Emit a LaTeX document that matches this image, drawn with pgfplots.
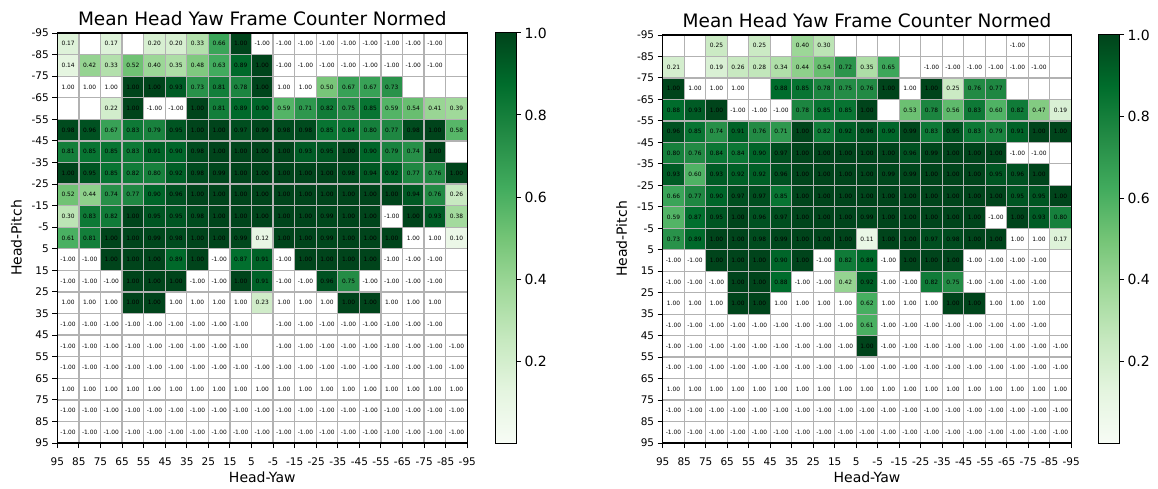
\documentclass[border=0pt]{standalone}
\usepackage{pgfplots}
\usepackage{pgfplotstable}
\usepackage{fontspec}
\setmainfont{DejaVu Sans}
\pgfplotsset{compat=1.18}
% v: value of a cell; -2 = empty white cell; -3 = white cell whose printed text reads 1.00
\pgfplotstableread[row sep=\\]{
v\\
0.17\\ -2\\ 0.17\\ -2\\ 0.20\\ 0.20\\ 0.33\\ 0.66\\ 1.00\\ -1\\ -1\\ -1\\ -1\\ -1\\ -1\\ -1\\ -1\\ -1\\ -2\\
0.14\\ 0.42\\ 0.33\\ 0.52\\ 0.40\\ 0.35\\ 0.48\\ 0.63\\ 0.89\\ 1.00\\ -1\\ -1\\ -1\\ -1\\ -1\\ -1\\ -1\\ -1\\ -2\\
-3\\ -3\\ -3\\ 1.00\\ 1.00\\ 0.93\\ 0.73\\ 0.81\\ 0.78\\ 1.00\\ -3\\ -3\\ 0.50\\ 0.67\\ 0.67\\ 0.73\\ -2\\ -2\\ -2\\
-2\\ -2\\ 0.22\\ 1.00\\ -1\\ -1\\ 1.00\\ 0.81\\ 0.89\\ 0.90\\ 0.59\\ 0.71\\ 0.82\\ 0.75\\ 0.85\\ 0.59\\ 0.54\\ 0.41\\ 0.39\\
0.98\\ 0.96\\ 0.67\\ 0.83\\ 0.79\\ 0.95\\ 1.00\\ 1.00\\ 0.97\\ 0.99\\ 0.98\\ 0.98\\ 0.85\\ 0.84\\ 0.80\\ 0.77\\ 0.98\\ 1.00\\ 0.58\\
0.81\\ 0.85\\ 0.85\\ 0.83\\ 0.91\\ 0.90\\ 0.98\\ 1.00\\ 1.00\\ 1.00\\ 1.00\\ 0.93\\ 0.95\\ 1.00\\ 0.90\\ 0.79\\ 0.74\\ 1.00\\ -2\\
1.00\\ 0.95\\ 0.85\\ 0.82\\ 0.80\\ 0.92\\ 0.98\\ 0.99\\ 1.00\\ 1.00\\ 1.00\\ 1.00\\ 1.00\\ 0.98\\ 0.94\\ 0.92\\ 0.77\\ 0.76\\ 1.00\\
0.52\\ 0.44\\ 0.74\\ 0.77\\ 0.90\\ 0.96\\ 1.00\\ 1.00\\ 1.00\\ 1.00\\ 1.00\\ 1.00\\ 1.00\\ 1.00\\ 1.00\\ 1.00\\ 0.94\\ 0.76\\ 0.26\\
0.30\\ 0.83\\ 0.82\\ 1.00\\ 0.95\\ 0.95\\ 0.98\\ 1.00\\ 1.00\\ 1.00\\ 1.00\\ 1.00\\ 0.99\\ 1.00\\ 1.00\\ -1\\ 1.00\\ 0.93\\ 0.38\\
0.61\\ 0.81\\ 1.00\\ 1.00\\ 0.99\\ 0.98\\ 1.00\\ 1.00\\ 0.99\\ 0.12\\ 1.00\\ 1.00\\ 0.99\\ 1.00\\ 1.00\\ 1.00\\ -3\\ -3\\ 0.10\\
-1\\ -1\\ 1.00\\ 1.00\\ 1.00\\ 0.89\\ 1.00\\ -1\\ 0.87\\ 0.91\\ -1\\ 1.00\\ 1.00\\ 1.00\\ 1.00\\ -1\\ -1\\ -1\\ -2\\
-1\\ -1\\ -1\\ 1.00\\ 1.00\\ 1.00\\ -1\\ -1\\ 1.00\\ 0.91\\ -1\\ -1\\ 0.96\\ 0.75\\ -1\\ -1\\ -1\\ -1\\ -2\\
-3\\ -3\\ -3\\ 1.00\\ 1.00\\ -3\\ -3\\ -3\\ -3\\ 0.23\\ -3\\ -3\\ -3\\ 1.00\\ 1.00\\ -3\\ -3\\ -3\\ -2\\
-1\\ -1\\ -1\\ -1\\ -1\\ -1\\ -1\\ -1\\ -1\\ -2\\ -1\\ -1\\ -1\\ -1\\ -1\\ -1\\ -1\\ -1\\ -2\\
-1\\ -1\\ -1\\ -1\\ -1\\ -1\\ -1\\ -1\\ -1\\ -2\\ -1\\ -1\\ -1\\ -1\\ -1\\ -1\\ -1\\ -1\\ -1\\
-1\\ -1\\ -1\\ -1\\ -1\\ -1\\ -1\\ -1\\ -1\\ -1\\ -1\\ -1\\ -1\\ -1\\ -1\\ -1\\ -1\\ -1\\ -1\\
-3\\ -3\\ -3\\ -3\\ -3\\ -3\\ -3\\ -3\\ -3\\ -3\\ -3\\ -3\\ -3\\ -3\\ -3\\ -3\\ -3\\ -3\\ -3\\
-1\\ -1\\ -1\\ -1\\ -1\\ -1\\ -1\\ -1\\ -1\\ -1\\ -1\\ -1\\ -1\\ -1\\ -1\\ -1\\ -1\\ -1\\ -1\\
-1\\ -1\\ -1\\ -1\\ -1\\ -1\\ -1\\ -1\\ -1\\ -1\\ -1\\ -1\\ -1\\ -1\\ -1\\ -1\\ -1\\ -1\\ -1\\
}\tableL
\pgfplotstableread[row sep=\\]{
v\\
-2\\ -2\\ 0.25\\ -2\\ 0.25\\ -2\\ 0.40\\ 0.30\\ -2\\ -2\\ -2\\ -2\\ -2\\ -2\\ -2\\ -2\\ -1\\ -2\\ -2\\
0.21\\ -2\\ 0.19\\ 0.26\\ 0.28\\ 0.34\\ 0.44\\ 0.54\\ 0.72\\ 0.35\\ 0.65\\ -2\\ -1\\ -1\\ -1\\ -1\\ -1\\ -1\\ -2\\
1.00\\ -3\\ -3\\ -3\\ -2\\ 0.88\\ 0.85\\ 0.78\\ 0.75\\ 0.76\\ 1.00\\ -3\\ 1.00\\ 0.25\\ 0.76\\ 0.77\\ -2\\ -2\\ -2\\
0.88\\ 0.93\\ 1.00\\ -1\\ -1\\ -1\\ 0.78\\ 0.85\\ 0.85\\ 1.00\\ -2\\ 0.53\\ 0.78\\ 0.56\\ 0.83\\ 0.60\\ 0.82\\ 0.47\\ 0.19\\
0.96\\ 0.85\\ 0.74\\ 0.91\\ 0.76\\ 0.71\\ 1.00\\ 0.82\\ 0.92\\ 0.96\\ 0.90\\ 0.99\\ 0.83\\ 0.95\\ 0.83\\ 0.79\\ 0.91\\ 1.00\\ 1.00\\
0.80\\ 0.76\\ 0.84\\ 0.84\\ 0.90\\ 0.97\\ 1.00\\ 1.00\\ 1.00\\ 1.00\\ 1.00\\ 0.96\\ 0.99\\ 1.00\\ 1.00\\ 1.00\\ -1\\ -1\\ -2\\
0.93\\ 0.60\\ 0.93\\ 0.92\\ 0.92\\ 0.96\\ 1.00\\ 1.00\\ 1.00\\ 1.00\\ 0.99\\ 0.99\\ 1.00\\ 1.00\\ 1.00\\ 0.95\\ 0.96\\ 1.00\\ -2\\
0.66\\ 0.77\\ 0.90\\ 0.97\\ 0.97\\ 0.85\\ 1.00\\ 1.00\\ 1.00\\ 1.00\\ 1.00\\ 1.00\\ 1.00\\ 1.00\\ 1.00\\ 1.00\\ 0.95\\ 0.95\\ 1.00\\
0.59\\ 0.87\\ 0.95\\ 1.00\\ 0.96\\ 0.97\\ 1.00\\ 1.00\\ 1.00\\ 0.99\\ 1.00\\ 1.00\\ 1.00\\ 1.00\\ 1.00\\ -1\\ 1.00\\ 0.93\\ 0.80\\
0.73\\ 0.89\\ 1.00\\ 1.00\\ 0.98\\ 0.99\\ 1.00\\ 1.00\\ 1.00\\ 0.11\\ 1.00\\ 1.00\\ 0.97\\ 0.98\\ 1.00\\ 1.00\\ -3\\ -3\\ 0.17\\
-1\\ -1\\ 1.00\\ 1.00\\ 1.00\\ 0.90\\ 1.00\\ -1\\ 0.82\\ 0.89\\ -1\\ 1.00\\ 1.00\\ 1.00\\ -1\\ -1\\ -1\\ -1\\ -2\\
-1\\ -1\\ -1\\ 1.00\\ 1.00\\ 0.88\\ -1\\ -1\\ 0.42\\ 0.92\\ -1\\ -1\\ 0.82\\ 0.75\\ -1\\ -1\\ -1\\ -1\\ -2\\
-3\\ -3\\ -3\\ 1.00\\ 1.00\\ -3\\ -3\\ -3\\ -3\\ 0.62\\ -3\\ -3\\ -3\\ 1.00\\ 1.00\\ -3\\ -3\\ -3\\ -2\\
-1\\ -1\\ -1\\ -1\\ -1\\ -1\\ -1\\ -1\\ -1\\ 0.61\\ -1\\ -1\\ -1\\ -1\\ -1\\ -1\\ -1\\ -1\\ -2\\
-1\\ -1\\ -1\\ -1\\ -1\\ -1\\ -1\\ -1\\ -1\\ 1.00\\ -1\\ -1\\ -1\\ -1\\ -1\\ -1\\ -1\\ -1\\ -1\\
-1\\ -1\\ -1\\ -1\\ -1\\ -1\\ -1\\ -1\\ -1\\ -1\\ -1\\ -1\\ -1\\ -1\\ -1\\ -1\\ -1\\ -1\\ -1\\
-3\\ -3\\ -3\\ -3\\ -3\\ -3\\ -3\\ -3\\ -3\\ -3\\ -3\\ -3\\ -3\\ -3\\ -3\\ -3\\ -3\\ -3\\ -3\\
-1\\ -1\\ -1\\ -1\\ -1\\ -1\\ -1\\ -1\\ -1\\ -1\\ -1\\ -1\\ -1\\ -1\\ -1\\ -1\\ -1\\ -1\\ -1\\
-1\\ -1\\ -1\\ -1\\ -1\\ -1\\ -1\\ -1\\ -1\\ -1\\ -1\\ -1\\ -1\\ -1\\ -1\\ -1\\ -1\\ -1\\ -1\\
}\tableR
\pgfplotsset{
  colormap={heatw}{rgb255(0pt)=(255,255,255); rgb255(1207pt)=(255,255,255); rgb255(1208pt)=(247,252,245);
    rgb255(1257pt)=(229,245,224); rgb255(1306pt)=(199,233,192); rgb255(1355pt)=(161,217,155);
    rgb255(1404pt)=(116,196,118); rgb255(1453pt)=(65,171,93); rgb255(1502pt)=(35,139,69);
    rgb255(1551pt)=(0,109,44); rgb255(1600pt)=(0,68,27)},
  colormap={Greens}{rgb255(0pt)=(247,252,245); rgb255(1pt)=(229,245,224); rgb255(2pt)=(199,233,192);
    rgb255(3pt)=(161,217,155); rgb255(4pt)=(116,196,118); rgb255(5pt)=(65,171,93);
    rgb255(6pt)=(35,139,69); rgb255(7pt)=(0,109,44); rgb255(8pt)=(0,68,27)},
  heat/.style={
    scale only axis, anchor=south west,
    xmin=0, xmax=19, ymin=0, ymax=19, y dir=reverse,
    xtick={0,...,19}, ytick={0,...,19},
    xticklabels={95,85,75,65,55,45,35,25,15,5,-5,-15,-25,-35,-45,-55,-65,-75,-85,-95},
    yticklabels={-95,-85,-75,-65,-55,-45,-35,-25,-15,-5,5,15,25,35,45,55,65,75,85,95},
    tick pos=left, tick align=outside, major tick length=5pt,
    tick style={black, line width=1pt},
    axis line style={black, line width=1.1pt},
    axis on top,
    grid=major, grid style={draw=black!30, line width=1.3pt},
    point meta min=-3, point meta max=1,
    colormap name=heatw,
    ticklabel style={font=\fontsize{10.5}{12}\selectfont},
    x tick label style={yshift=-6pt},
    /pgf/number format/assume math mode=true,
    xlabel={Head-Yaw}, ylabel={Head-Pitch},
    label style={font=\fontsize{14}{16}\selectfont},
    xlabel style={yshift=0pt},
    ylabel style={yshift=3pt},
    title style={font=\fontsize{18.5}{20}\selectfont, yshift=-2pt},
    title={Mean Head Yaw Frame Counter Normed},
  },
  celltext/.style={
    draw=none, mark=none, forget plot,
    nodes near coords={\pgfmathprintnumber[fixed,fixed zerofill,precision=2,assume math mode=true]{\pgfplotspointmeta}},
    every node near coord/.append style={font=\fontsize{5.9}{7}\selectfont, text=black, inner sep=0pt, anchor=center},
    point meta={\thisrow{v}<-2.5 ? 1 : \thisrow{v}},
  },
  cbar/.style={
    scale only axis, anchor=south west,
    xmin=0, xmax=1, ymin=0, ymax=1,
    xtick=\empty, ytick={0.2,0.4,0.6,0.8,1.0},
    yticklabels={0.2,0.4,0.6,0.8,1.0},
    ytick pos=right, tick align=outside, major tick length=5pt,
    tick style={black, line width=1pt},
    axis line style={black, line width=1pt},
    axis on top,
    colormap name=Greens, point meta min=0, point meta max=1,
    ticklabel style={font=\fontsize{14}{16}\selectfont},
    /pgf/number format/assume math mode=true,
  },
}
\newcommand{\cellx}{\coordindex-19*floor((\coordindex+0.5)/19)+0.5}
\newcommand{\celly}{floor((\coordindex+0.5)/19)+0.5}
\begin{document}
\begin{tikzpicture}[x=1pt,y=1pt]
\path[use as bounding box] (0,0) rectangle (1158,488);
\begin{axis}[heat, at={(57.3pt,45pt)}, width=410pt, height=410pt]
\addplot[matrix plot*, mesh/cols=19, mesh/rows=19, point meta=\thisrow{v}]
  table[x index=0, y index=0, x expr={\cellx}, y expr={\celly}] {\tableL};
\addplot[celltext] table[x index=0, y index=0, x expr={\cellx}, y expr={abs(\thisrow{v}+2)<0.5 ? nan : \celly}] {\tableL};
\end{axis}
\begin{axis}[cbar, at={(495pt,45pt)}, width=21pt, height=410pt]
\addplot[surf, shader=interp, mesh/rows=2, mesh/cols=2, point meta=y] coordinates {(0,0) (1,0) (0,1) (1,1)};
\end{axis}
\begin{axis}[heat, at={(662.7pt,45pt)}, width=408.5pt, height=408pt]
\addplot[matrix plot*, mesh/cols=19, mesh/rows=19, point meta=\thisrow{v}]
  table[x index=0, y index=0, x expr={\cellx}, y expr={\celly}] {\tableR};
\addplot[celltext] table[x index=0, y index=0, x expr={\cellx}, y expr={abs(\thisrow{v}+2)<0.5 ? nan : \celly}] {\tableR};
\end{axis}
\begin{axis}[cbar, at={(1098pt,45pt)}, width=21pt, height=408pt]
\addplot[surf, shader=interp, mesh/rows=2, mesh/cols=2, point meta=y] coordinates {(0,0) (1,0) (0,1) (1,1)};
\end{axis}
\end{tikzpicture}
\end{document}
